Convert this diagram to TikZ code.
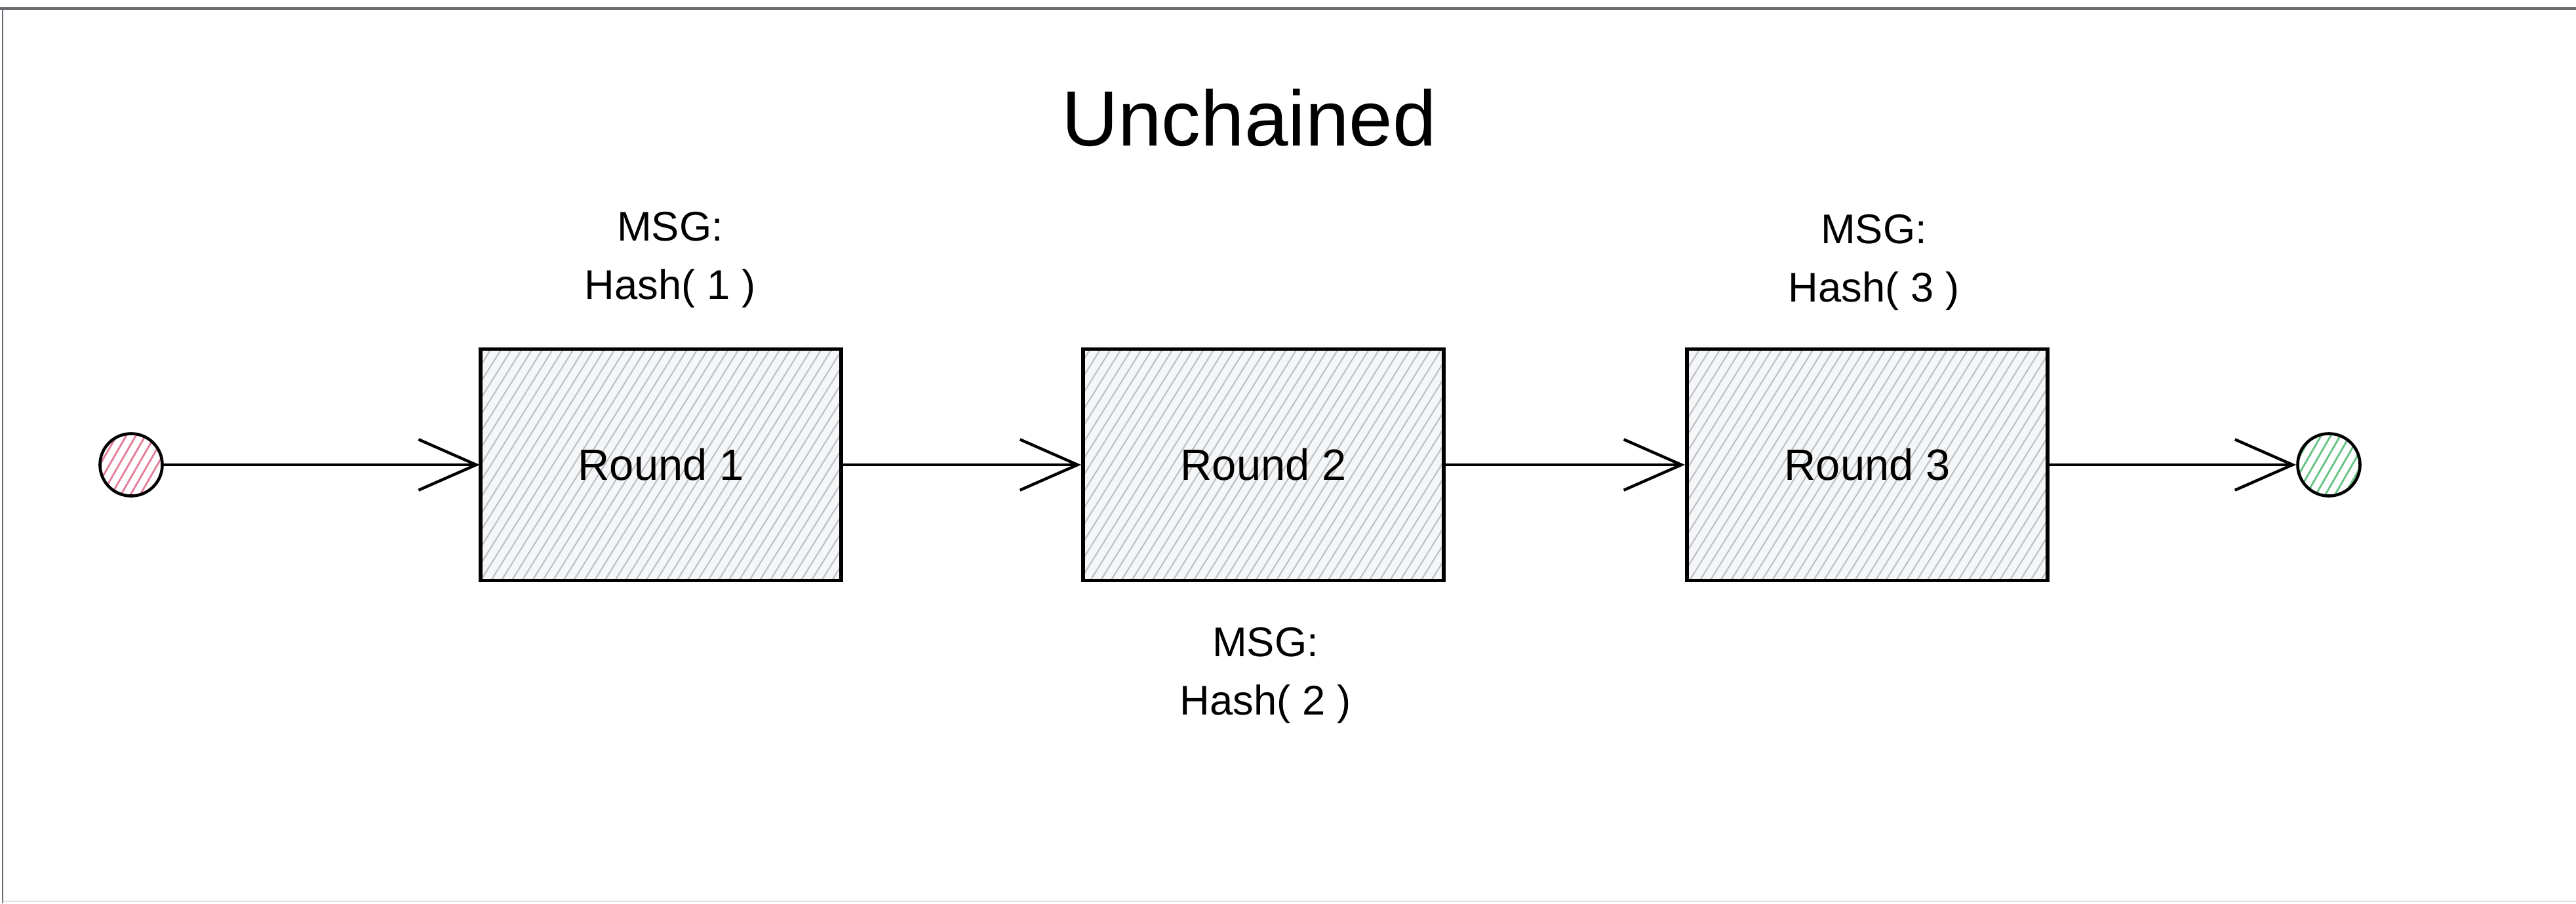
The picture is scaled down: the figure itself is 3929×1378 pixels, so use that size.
\documentclass[tikz,border=0pt]{standalone}
\usepackage{fontspec}
\setmainfont{Liberation Sans}
\usetikzlibrary{arrows.meta,patterns.meta}
\definecolor{hatchgray}{RGB}{190,192,195}
\definecolor{boxbg}{RGB}{245,246,247}
\definecolor{pinkhatch}{RGB}{228,125,152}
\definecolor{greenhatch}{RGB}{100,195,130}
\definecolor{framegray}{RGB}{105,108,112}
\begin{document}
\begin{tikzpicture}[x=0.01cm,y=-0.01cm,
  roundbox/.style={draw=black, line width=1.6pt, minimum width=5.5cm, minimum height=3.53cm,
    inner sep=0pt, font=\fontsize{19}{24}\selectfont,
    preaction={fill=boxbg},
    pattern={Lines[angle=58,distance=3.8pt,line width=0.6pt]}, pattern color=hatchgray},
  dot/.style={circle, draw=black, line width=1.3pt, minimum size=0.95cm, inner sep=0pt,
    preaction={fill=white},
    pattern={Lines[angle=60,distance=3.6pt,line width=0.8pt]}},
  lbl/.style={align=center, inner sep=0pt, font=\fontsize{18}{25.3}\selectfont},
  ttl/.style={inner sep=0pt, font=\fontsize{34}{40}\selectfont},
  conn/.style={draw=black, line width=1.25pt,
    -{Straight Barb[length=25pt,width=22pt,line width=1.25pt]}}
]
\useasboundingbox (0,0) rectangle (3929,1378);
\fill[white] (0,0) rectangle (3929,1378);
% frame of the screenshot
\draw[framegray, line width=1.3pt] (0,13) -- (3929,13);
\draw[framegray, line width=0.5pt] (4,13) -- (4,1378);
\draw[black!12, line width=0.6pt] (4,1375) -- (3929,1375);

\node[ttl, anchor=base] (title) at (1905,222) {Unchained};

\node[dot, pattern color=pinkhatch] (start) at (200,709) {};
\node[roundbox] (r1) at (1008,709) {Round 1};
\node[roundbox] (r2) at (1927,709) {Round 2};
\node[roundbox] (r3) at (2848,709) {Round 3};
\node[dot, pattern color=greenhatch] (end) at (3552,709) {};

\node[lbl] (m1) at (1022,396) {MSG:\\Hash( 1 )};
\node[lbl] (m2) at (1930,1030) {MSG:\\Hash( 2 )};
\node[lbl] (m3) at (2858,400) {MSG:\\Hash( 3 )};

\draw[conn] (start.east) -- (r1.west);
\draw[conn] (r1.east) -- (r2.west);
\draw[conn] (r2.east) -- (r3.west);
\draw[conn] (r3.east) -- (end.west);
\end{tikzpicture}
\end{document}
